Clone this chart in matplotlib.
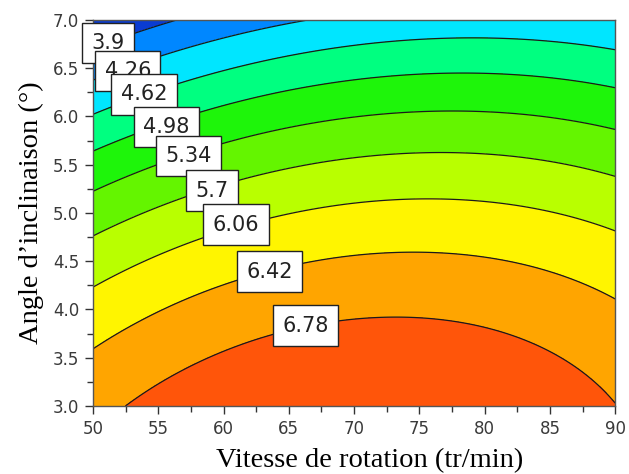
import numpy as np
import matplotlib
matplotlib.use("Agg")
import matplotlib.pyplot as plt
from matplotlib.path import Path
from matplotlib.ticker import MultipleLocator, FormatStrFormatter

# Contour levels shown on the chart
levels = [3.9, 4.26, 4.62, 4.98, 5.34, 5.7, 6.06, 6.42, 6.78]

# Points: (vitesse, angle, level)
pt_x = [53.1, 56.1,
        57.4, 60.0, 66.1,
        50.0, 60.0, 78.0, 90.0,
        50.0, 60.0, 78.0, 90.0,
        50.0, 60.0, 78.0, 90.0,
        50.0, 78.0, 90.0,
        50.0, 60.0, 76.0, 90.0,
        50.0, 60.0, 74.0, 90.0,
        52.7, 60.0, 63.8, 73.5, 80.2, 85.0, 88.0, 90.0]
pt_y = [6.87, 7.0,
        6.71, 6.78, 7.0,
        6.06, 6.45, 6.81, 6.70,
        5.63, 6.10, 6.45, 6.30,
        5.22, 5.73, 6.07, 5.85,
        4.75, 5.63, 5.38,
        4.24, 4.79, 5.15, 4.80,
        3.59, 4.27, 4.61, 4.10,
        3.0, 3.6, 3.73, 3.93, 3.82, 3.58, 3.30, 3.0]
pt_z = [3.9, 3.9,
        4.26, 4.26, 4.26,
        4.62, 4.62, 4.62, 4.62,
        4.98, 4.98, 4.98, 4.98,
        5.34, 5.34, 5.34, 5.34,
        5.7, 5.7, 5.7,
        6.06, 6.06, 6.06, 6.06,
        6.42, 6.42, 6.42, 6.42,
        6.78, 6.78, 6.78, 6.78, 6.78, 6.78, 6.78, 6.78]

band_colors = ["#0a3cd2", "#0087ff", "#00e6ff", "#00ff80", "#1ef50a",
               "#64f500", "#b9ff00", "#fff500", "#ffa500", "#ff550a"]

x_range = (50, 90)
y_range = (3.0, 7.0)

# quadratic response surface fitted to the read contour points
px = np.array(pt_x); py = np.array(pt_y); pz = np.array(pt_z)
X = (px - 70) / 20; Y = (py - 5) / 2
A = np.column_stack([np.ones_like(X), X, Y, X**2, Y**2, X*Y])
coef, *_ = np.linalg.lstsq(A, pz, rcond=None)

gx = np.linspace(*x_range, 300)
gy = np.linspace(*y_range, 300)
GX, GY = np.meshgrid(gx, gy)
XX = (GX - 70) / 20; YY = (GY - 5) / 2
Z = (coef[0] + coef[1]*XX + coef[2]*YY + coef[3]*XX**2 + coef[4]*YY**2
     + coef[5]*XX*YY)

fig = plt.figure(figsize=(6.29, 4.74), dpi=100)
ax = fig.add_axes([0.148, 0.1435, 0.830, 0.8145])

ax.contourf(GX, GY, Z, levels=levels, colors=band_colors, extend="both")
ax.contour(GX, GY, Z, levels=levels, colors="#1a1a1a", linewidths=0.9)

ax.set_xlim(*x_range)
ax.set_ylim(*y_range)
ax.xaxis.set_major_locator(MultipleLocator(5))
ax.xaxis.set_minor_locator(MultipleLocator(2.5))
ax.yaxis.set_major_locator(MultipleLocator(0.5))
ax.yaxis.set_minor_locator(MultipleLocator(0.25))
ax.xaxis.set_major_formatter(FormatStrFormatter("%d"))
ax.yaxis.set_major_formatter(FormatStrFormatter("%.1f"))
ax.tick_params(which="major", direction="out", length=6, width=1,
               color="#333333", labelsize=12, labelcolor="#3a3a3a", pad=4)
ax.tick_params(which="minor", direction="out", length=4, width=1, color="#333333")
for s in ax.spines.values():
    s.set_color("#555555")
    s.set_linewidth(1)

ax.set_xlabel("Vitesse de rotation (tr/min)", family="Liberation Serif",
              fontsize=20.5)
ax.xaxis.set_label_coords(0.529, -0.108)
ax.set_ylabel("Angle d\u2019inclinaison (\u00b0)", family="Liberation Serif",
              fontsize=20.5, labelpad=6)


def tall_box(x0, y0, width, height, mutation_size):
    padx = 0.45 * mutation_size
    pady = 0.50 * mutation_size
    x0, y0 = x0 - padx, y0 - pady
    x1, y1 = x0 + width + 2 * padx, y0 + height + 2 * pady
    return Path([(x0, y0), (x1, y0), (x1, y1), (x0, y1), (x0, y0)], closed=True)


# contour label boxes (layout positions)
lab_pos_x = [51.15, 52.66, 53.9, 55.6, 57.3, 59.1, 60.96, 63.5, 66.3]
lab_pos_y = [6.76, 6.47, 6.23, 5.89, 5.59, 5.23, 4.88, 4.39, 3.83]
for i, (lx, ly, lv) in enumerate(zip(lab_pos_x, lab_pos_y, levels)):
    ax.text(lx, ly, f"{lv:g}", ha="center", va="center", fontsize=15,
            color="#222222", family="DejaVu Sans", zorder=5 + i, clip_on=False,
            bbox=dict(boxstyle=tall_box, fc="white", ec="#222222", lw=1))

fig.savefig("out.png", dpi=100)
